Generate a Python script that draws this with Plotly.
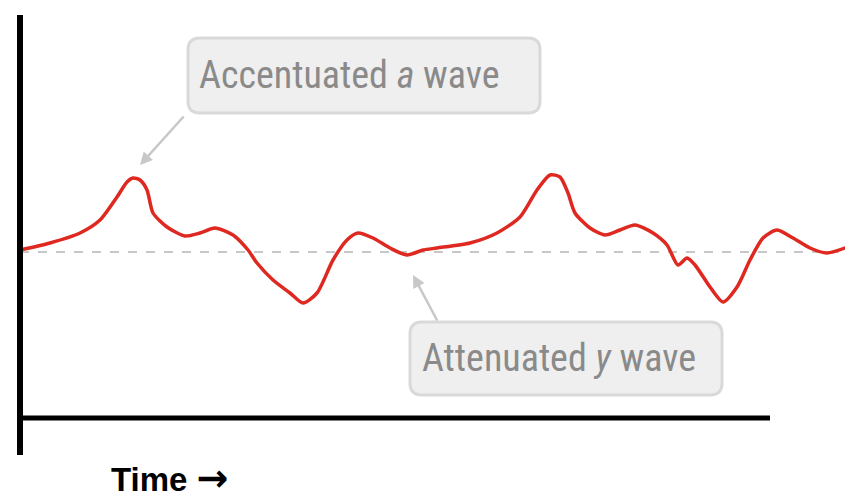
import plotly.graph_objects as go

# Time (arbitrary units) and amplitude of the jugular venous pressure trace
time = [0, 30, 60, 80, 97, 107, 113, 120, 127, 133,
        147, 165, 180, 195, 213, 228, 237, 253, 270, 283,
        297, 313, 327, 338, 353, 370, 387, 403, 417, 450,
        477, 500, 517, 530, 540, 548, 555, 570, 585, 600,
        615, 633, 647, 658, 667, 675, 690, 703, 717, 730,
        743, 757, 773, 790, 807, 833]
amplitude = [2, 9, 19, 32, 55, 70, 74, 72, 62, 39,
             25, 16, 19, 24, 17, 2, -11, -28, -41, -51,
             -41, -8, 12, 19, 14, 4, -3, 2, 4, 9,
             19, 35, 62, 77, 75, 59, 39, 24, 17, 22,
             27, 19, 7, -13, -6, -13, -35, -50, -35, -8,
             14, 22, 14, 4, -1, 7]

label_top = "Accentuated <i>a</i> wave"
label_bottom = "Attenuated <i>y</i> wave"
axis_label = ("<b>Time <span style=\"font-family:'DejaVu Sans';font-size:38px\">"
              "\u2192</span></b>")

fig = go.Figure()
fig.add_trace(go.Scatter(x=time, y=amplitude, mode="lines",
                         line=dict(color="#de2820", width=3.5, shape="spline", smoothing=0.7),
                         hoverinfo="skip", showlegend=False))


def rrect(x0, y0, x1, y1, r):
    return (f"M {x0+r},{y0} L {x1-r},{y0} Q {x1},{y0} {x1},{y0+r} "
            f"L {x1},{y1-r} Q {x1},{y1} {x1-r},{y1} L {x0+r},{y1} "
            f"Q {x0},{y1} {x0},{y1-r} L {x0},{y0+r} Q {x0},{y0} {x0+r},{y0} Z")


shapes = [
    # baseline
    dict(type="line", x0=0, x1=833, y0=0, y1=0, xref="x", yref="y",
         line=dict(color="#b5b5b5", width=1.5, dash="dash"), layer="below"),
    # y axis
    dict(type="line", x0=0, x1=0, y0=237, y1=-203, xref="x", yref="y",
         line=dict(color="black", width=6)),
    # x axis
    dict(type="line", x0=0, x1=750, y0=-166, y1=-166, xref="x", yref="y",
         line=dict(color="black", width=5)),
    # label boxes
    dict(type="path", path=rrect(168, 139, 520, 214, 12), xref="x", yref="y",
         fillcolor="#efefef", line=dict(color="#d9d9d9", width=3)),
    dict(type="path", path=rrect(390, -143, 702, -70, 12), xref="x", yref="y",
         fillcolor="#efefef", line=dict(color="#d9d9d9", width=3)),
]

box_font = dict(family="Roboto Condensed, DejaVu Sans Condensed, Liberation Sans",
                size=38, color="#8a8a8a")

annotations = [
    dict(x=177, y=177, text=label_top, showarrow=False, xanchor="left", yanchor="middle",
         font=box_font),
    dict(x=400, y=-106, text=label_bottom, showarrow=False, xanchor="left", yanchor="middle",
         font=box_font),
    dict(x=120, y=87, ax=165, ay=137, axref="x", ayref="y", xref="x", yref="y", text="",
         showarrow=True, arrowhead=2, arrowsize=1, arrowwidth=2.5, arrowcolor="#c8c8c8"),
    dict(x=393, y=-23, ax=418, ay=-70, axref="x", ayref="y", xref="x", yref="y", text="",
         showarrow=True, arrowhead=2, arrowsize=1, arrowwidth=2.5, arrowcolor="#c8c8c8"),
    dict(x=89, y=-226, text=axis_label, showarrow=False, xanchor="left", yanchor="middle",
         font=dict(family="Liberation Sans, Arial", size=33, color="black")),
]

# the page adds an 8px body margin, so the figure is 8px smaller and the
# visible ranges start 8px later than the full 853x499 frame
fig.update_layout(
    width=845, height=491,
    margin=dict(l=0, r=0, t=0, b=0),
    paper_bgcolor="white", plot_bgcolor="white",
    xaxis=dict(range=[-12, 833], visible=False, fixedrange=True),
    yaxis=dict(range=[-247, 244], visible=False, fixedrange=True),
    shapes=shapes, annotations=annotations,
    showlegend=False,
)

fig.write_html("out.html")
